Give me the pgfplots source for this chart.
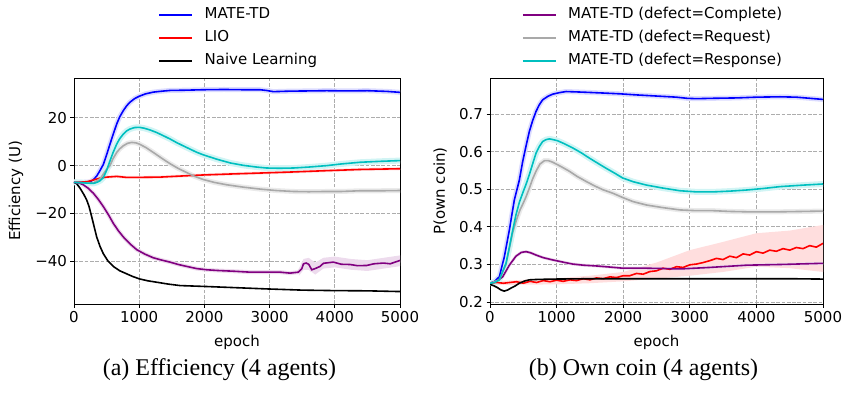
\documentclass[border=0pt]{standalone}
\usepackage{pgfplots}
\pgfplotsset{compat=1.18}
\usepackage{pgfplotstable}
\usepackage{fontspec}
\setmainfont{DejaVu Sans}
\newfontfamily\capfont{Liberation Serif}

\definecolor{mblue}{RGB}{0,0,255}
\definecolor{mred}{RGB}{255,0,0}
\definecolor{mpurple}{RGB}{128,0,128}
\definecolor{mgray}{RGB}{169,169,169}
\definecolor{mcyan}{RGB}{0,191,191}

\tikzset{mline/.style={line width=1.6pt}, mband/.style={line width=5pt}}

% ---------------- left panel: Efficiency (U) ----------------
\pgfplotstableread{
e v
0 -7
100 -7
200 -6.9
250 -6.7
300 -5.8
350 -4.3
400 -2
450 0.5
500 4.5
552 9.0
600 13
655 17.4
700 20.3
757 23
808 25
859 26.5
930 28
1002 29
1100 30
1217 30.7
1350 31.1
1473 31.4
1700 31.5
1984 31.7
2300 31.8
2600 31.7
2853 31.7
2950 31.4
3058 30.9
3300 31.1
3600 31.2
3876 31.3
4200 31.2
4500 31.3
4800 31.0
5000 30.6
}\blueL

\pgfplotstableread{
e v
0 -7
100 -6.9
200 -6.7
300 -6
400 -5.2
500 -4.8
655 -4.5
800 -4.9
1000 -4.9
1319 -4.8
1600 -4.4
1984 -3.9
2400 -3.5
2853 -3.1
3300 -2.7
3876 -2.1
4400 -1.6
5000 -1.3
}\redL

\pgfplotstableread{
e v
0 -7
40 -7.5
92 -9.4
150 -12
194 -14.3
230 -17
271 -21.3
310 -25.6
348 -29.8
400 -33.8
450 -36.8
520 -39.8
603 -42.1
700 -43.9
808 -45.2
900 -46.3
1002 -47.3
1130 -48.1
1268 -48.7
1450 -49.5
1626 -50.1
2035 -50.5
2500 -51
2956 -51.5
3500 -52
3978 -52.2
4500 -52.3
5000 -52.6
}\blackL

\pgfplotstableread{
e v
0 -7
80 -7.3
143 -8
220 -9.5
296 -11.5
370 -14
450 -17.1
530 -20.6
603 -24.1
680 -27.2
757 -29.8
860 -32.7
961 -35.1
1090 -37
1217 -38.5
1350 -39.5
1473 -40.3
1600 -41.3
1729 -42.1
1880 -43
2035 -43.5
2200 -43.8
2444 -44.1
2700 -44.5
2956 -44.5
3160 -44.5
3313 -44.9
3440 -44.5
3493 -43.1
3520 -41
3560 -40.7
3600 -41.2
3646 -43.5
3700 -43
3774 -42.1
3825 -40.8
3978 -40.3
4100 -41.2
4234 -41.3
4350 -41.8
4490 -41.7
4600 -41
4745 -40.7
4850 -41
5000 -39.6
}\purpleL

\pgfplotstableread{
e v
0 -7
200 -7.2
300 -7.2
400 -5.5
450 -3.5
500 -1.5
552 0
600 3
655 5.5
700 7
757 8.3
820 9.3
885 9.7
950 9.5
1002 9.0
1100 7.6
1217 5.5
1350 3
1473 0.8
1600 -1.2
1729 -2.9
1850 -4.5
1984 -5.8
2150 -7
2342 -8
2600 -9
2853 -9.8
3100 -10.4
3364 -10.8
3600 -10.9
3876 -10.8
4100 -10.8
4387 -10.5
4700 -10.5
5000 -10.4
}\grayL

\pgfplotstableread{
e v
0 -7
100 -7.1
200 -7.3
300 -7.4
350 -7
400 -6.3
450 -5
500 -2
552 2
600 5.5
655 9
700 11.2
757 13.2
808 14.5
859 15.3
930 15.9
1002 16
1080 15.6
1166 14.9
1270 13.8
1370 12.5
1475 11.1
1575 9.6
1680 8.2
1780 6.9
1880 5.6
1984 4.5
2086 3.6
2200 2.6
2400 1.1
2600 0.1
2800 -0.6
2955 -1.0
3150 -1.1
3364 -1
3600 -0.6
3876 0
4100 0.7
4387 1.4
4700 1.8
5000 2.1
}\cyanL

% ---------------- right panel: P(own coin) ----------------
\pgfplotstableread{
e v
0 0.25
70 0.255
140 0.267
215 0.32
290 0.391
365 0.471
440 0.524
491 0.574
541 0.615
591 0.654
641 0.683
691 0.707
741 0.725
791 0.738
866 0.747
941 0.753
1041 0.757
1141 0.760
1300 0.759
1441 0.758
1700 0.756
1942 0.754
2200 0.751
2500 0.748
2800 0.745
2954 0.742
3100 0.741
3353 0.742
3700 0.743
4000 0.745
4354 0.746
4600 0.745
4800 0.742
5000 0.739
}\blueR

\pgfplotstableread{
e v
0 0.25
100 0.252
200 0.25
300 0.252
400 0.254
500 0.25
600 0.255
700 0.252
800 0.257
900 0.254
1000 0.258
1100 0.255
1200 0.259
1300 0.257
1400 0.262
1500 0.259
1600 0.264
1700 0.262
1800 0.267
1900 0.265
2000 0.27
2100 0.27
2200 0.276
2300 0.274
2400 0.281
2500 0.283
2600 0.29
2700 0.287
2800 0.294
2900 0.292
3000 0.299
3100 0.301
3200 0.305
3300 0.31
3400 0.316
3500 0.313
3600 0.322
3700 0.318
3800 0.328
3900 0.325
4000 0.334
4100 0.33
4200 0.338
4300 0.335
4400 0.342
4500 0.338
4600 0.345
4700 0.342
4800 0.35
4900 0.346
5000 0.356
}\redR

\pgfplotstableread{
e v
0 0.247
60 0.243
115 0.238
165 0.232
215 0.229
265 0.232
315 0.237
380 0.243
440 0.25
520 0.256
591 0.259
700 0.26
941 0.261
1500 0.262
2500 0.262
3500 0.262
4500 0.262
5000 0.261
}\blackR

\pgfplotstableread{
e v
0 0.25
100 0.255
190 0.267
290 0.298
390 0.322
470 0.332
541 0.334
610 0.331
691 0.325
800 0.318
941 0.312
1100 0.306
1241 0.301
1400 0.298
1592 0.296
1800 0.293
1992 0.29
2352 0.29
2853 0.288
3300 0.292
3854 0.298
4400 0.3
5000 0.303
}\purpleR

\pgfplotstableread{
e v
0 0.25
140 0.259
240 0.3
341 0.385
400 0.42
450 0.445
491 0.46
541 0.48
591 0.503
641 0.528
691 0.548
750 0.567
816 0.576
880 0.576
941 0.572
1060 0.561
1191 0.548
1310 0.534
1441 0.521
1570 0.509
1692 0.499
1850 0.489
1992 0.478
2150 0.467
2352 0.458
2600 0.451
2853 0.445
3100 0.443
3353 0.443
3600 0.441
3854 0.44
4354 0.44
4700 0.441
5000 0.442
}\grayR

\pgfplotstableread{
e v
0 0.25
70 0.252
140 0.259
240 0.303
290 0.345
341 0.391
390 0.432
440 0.465
491 0.49
541 0.513
591 0.539
641 0.568
691 0.596
741 0.614
791 0.627
841 0.632
891 0.634
950 0.632
1016 0.629
1130 0.62
1241 0.61
1370 0.597
1491 0.583
1620 0.569
1742 0.556
1870 0.543
1992 0.53
2150 0.52
2352 0.511
2600 0.503
2853 0.496
3100 0.493
3353 0.493
3600 0.495
3854 0.498
4100 0.502
4354 0.507
4700 0.511
5000 0.514
}\cyanR

\pgfplotsset{
  panel/.style={
    scale only axis,
    anchor=south west,
    height=226pt,
    xmin=0, xmax=5000,
    xtick={0,1000,2000,3000,4000,5000},
    xticklabels={0,1000,2000,3000,4000,5000},
    /pgf/number format/assume math mode=true,
    tick align=outside,
    tick pos=left,
    major tick length=3.5pt,
    tick style={black, line width=0.8pt},
    axis line style={line width=0.8pt},
    grid=major,
    grid style={black!32, line width=0.8pt, dash pattern=on 3.7pt off 1.6pt},
    ticklabel style={font=\fontsize{15}{18}\selectfont},
    label style={font=\fontsize{15}{18}\selectfont},
    xlabel={epoch},
    xlabel style={at={(axis description cs:0.5,-0.171)}, anchor=center},
    legend image code/.code={\draw[##1, line width=2.3pt, solid] (0pt,0pt) -- (33pt,0pt);},
    legend cell align=left,
    legend style={draw=none, fill=none, inner sep=0pt, row sep=5pt,
      font=\fontsize{15}{18}\selectfont,
      nodes={inner sep=2pt, text height=11pt, text depth=3pt},
      /tikz/every odd column/.append style={column sep=9pt}},
  }
}

\begin{document}
\begin{tikzpicture}
\path[use as bounding box] (0pt,0pt) rectangle (845pt,392pt);

% ---------- (a) ----------
\begin{axis}[panel,
  at={(74pt,88pt)}, width=326pt,
  ymin=-57.8, ymax=36.6,
  ytick={-40,-20,0,20},
  yticklabels={−40,−20,0,20},
  ylabel={Efficiency (U)},
  ylabel style={at={(axis description cs:-0.178,0.5)}, anchor=center},
  legend style={at={(axis description cs:0.258,1.3197)}, anchor=north west},
]
\addlegendimage{mblue}
\addlegendentry{MATE-TD}
\addlegendimage{mred}
\addlegendentry{LIO}
\addlegendimage{black}
\addlegendentry{Naive Learning}

\addplot[forget plot, mband, mblue!14] table[x=e,y=v] {\blueL};
\addplot[forget plot, mband, line width=3pt, mred!12] table[x=e,y=v] {\redL};
\addplot[forget plot, mband, line width=4pt, mpurple!14] table[x=e,y=v] {\purpleL};
\addplot[forget plot, fill=mpurple!14, draw=none] coordinates {
 (3450,-43) (3520,-39) (3600,-38.5) (3700,-40.5) (3825,-38.5) (4000,-38) (4250,-39) (4500,-39.5) (4750,-38.5) (5000,-37.5)
 (5000,-42) (4750,-43) (4500,-44) (4250,-43.5) (4000,-42.5) (3825,-43) (3700,-45.5) (3600,-43.5) (3520,-43.5) (3450,-46)} -- cycle;
\addplot[forget plot, mband, mgray!25] table[x=e,y=v] {\grayL};
\addplot[forget plot, mband, line width=6pt, mcyan!18] table[x=e,y=v] {\cyanL};

\addplot[forget plot, mline, mblue] table[x=e,y=v] {\blueL};
\addplot[forget plot, mline, mred] table[x=e,y=v] {\redL};
\addplot[forget plot, mline, black] table[x=e,y=v] {\blackL};
\addplot[forget plot, mline, mpurple] table[x=e,y=v] {\purpleL};
\addplot[forget plot, mline, mgray] table[x=e,y=v] {\grayL};
\addplot[forget plot, mline, mcyan] table[x=e,y=v] {\cyanL};
\end{axis}

% ---------- (b) ----------
\begin{axis}[panel,
  at={(490pt,88pt)}, width=333pt,
  ymin=0.1947, ymax=0.796,
  ytick={0.2,0.3,0.4,0.5,0.6,0.7},
  yticklabels={0.2,0.3,0.4,0.5,0.6,0.7},
  ylabel={P(own coin)},
  ylabel style={at={(axis description cs:-0.150,0.5)}, anchor=center},
  legend style={at={(axis description cs:0.095,1.3197)}, anchor=north west},
]
\addlegendimage{mpurple}
\addlegendentry{MATE-TD (defect=Complete)}
\addlegendimage{mgray}
\addlegendentry{MATE-TD (defect=Request)}
\addlegendimage{mcyan}
\addlegendentry{MATE-TD (defect=Response)}

\addplot[forget plot, mband, mblue!14] table[x=e,y=v] {\blueR};
\addplot[forget plot, fill=mred!13, draw=none] coordinates {
 (0,0.255) (1000,0.263) (1500,0.27) (2000,0.28) (2500,0.305) (3000,0.338) (3500,0.36) (4000,0.383) (4500,0.39) (5000,0.405)
 (5000,0.28) (4500,0.29) (4000,0.294) (3500,0.28) (3000,0.27) (2500,0.262) (2000,0.255) (1500,0.25) (1000,0.247) (0,0.245)} -- cycle;
\addplot[forget plot, mband, line width=3pt, mpurple!14] table[x=e,y=v] {\purpleR};
\addplot[forget plot, mband, mgray!25] table[x=e,y=v] {\grayR};
\addplot[forget plot, mband, line width=6pt, mcyan!18] table[x=e,y=v] {\cyanR};

\addplot[forget plot, mline, mblue] table[x=e,y=v] {\blueR};
\addplot[forget plot, mline, mred] table[x=e,y=v] {\redR};
\addplot[forget plot, mline, black] table[x=e,y=v] {\blackR};
\addplot[forget plot, mline, mpurple] table[x=e,y=v] {\purpleR};
\addplot[forget plot, mline, mgray] table[x=e,y=v] {\grayR};
\addplot[forget plot, mline, mcyan] table[x=e,y=v] {\cyanR};
\end{axis}

\node[font=\capfont\fontsize{24}{28}\selectfont] at (219.5pt,22pt) {(a) Efficiency (4 agents)};
\node[font=\capfont\fontsize{24}{28}\selectfont] at (643.5pt,22pt) {(b) Own coin (4 agents)};
\end{tikzpicture}
\end{document}
